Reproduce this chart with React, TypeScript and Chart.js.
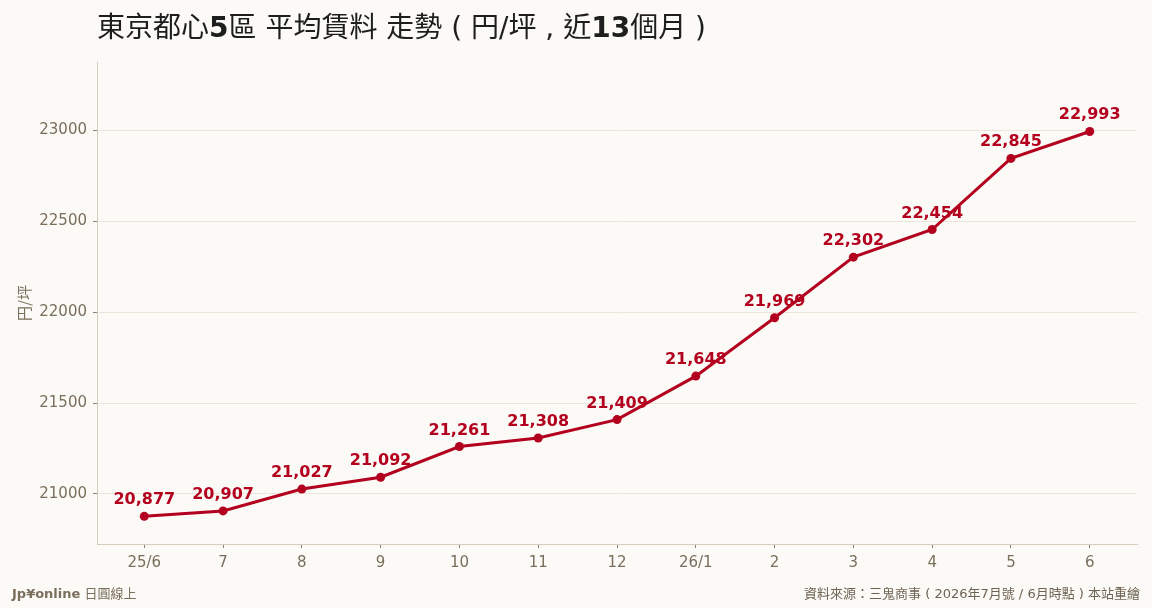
import { useEffect, useRef } from 'react';
import { Chart, registerables } from 'chart.js';

Chart.register(...registerables);

// 月次ラベル（25/6 〜 26/6）
const monthLabels = ['25/6', '7', '8', '9', '10', '11', '12', '26/1', '2', '3', '4', '5', '6'];
// 平均賃料（円/坪）
const rentValues = [20877, 20907, 21027, 21092, 21261, 21308, 21409, 21648, 21969, 22302, 22454, 22845, 22993];
// y軸の目盛り
const yTickValues = [21000, 21500, 22000, 22500, 23000];

const LINE_RED = '#b3001e';
const TICK_TEXT = '#7a6e5c';
const GRID = '#ebe5da';
const BORDER = '#d6cdbf';

const valueLabels = {
  id: 'valueLabels',
  afterDatasetsDraw(chart: any) {
    const ctx = chart.ctx;
    const meta = chart.getDatasetMeta(0);
    ctx.save();
    ctx.font = 'bold 16px "DejaVu Sans", sans-serif';
    ctx.fillStyle = LINE_RED;
    ctx.textAlign = 'center';
    ctx.textBaseline = 'alphabetic';
    meta.data.forEach((pt: any, i: number) => {
      ctx.fillText(rentValues[i].toLocaleString('en-US'), pt.x, pt.y - 12);
    });
    ctx.restore();
  },
};

export default function App() {
  const canvasRef = useRef<HTMLCanvasElement>(null);
  const chartRef = useRef<any>(null);

  useEffect(() => {
    document.body.style.margin = '0';
    if (!canvasRef.current) return;
    if (chartRef.current) chartRef.current.destroy();

    chartRef.current = new Chart(canvasRef.current, {
      type: 'line',
      data: {
        datasets: [
          {
            label: '平均賃料',
            data: rentValues.map((v, i) => ({ x: i, y: v })),
            borderColor: LINE_RED,
            backgroundColor: LINE_RED,
            borderWidth: 3,
            pointRadius: 4.5,
            pointBackgroundColor: LINE_RED,
            pointBorderWidth: 0,
            tension: 0,
          },
        ],
      },
      options: {
        responsive: false,
        animation: false,
        layout: { padding: { left: 0, top: 62, right: 15, bottom: 0 } },
        plugins: {
          legend: { display: false },
          tooltip: { enabled: false },
        },
        scales: {
          x: {
            type: 'linear',
            min: -0.6,
            max: 12.6,
            afterFit: (scale: any) => { scale.height = 64; },
            afterBuildTicks: (scale: any) => {
              scale.ticks = monthLabels.map((_, i) => ({ value: i }));
            },
            border: { color: BORDER },
            grid: { drawOnChartArea: false, drawTicks: true, tickLength: 4, tickColor: '#8a7f70' },
            ticks: {
              autoSkip: false,
              maxRotation: 0,
              padding: 6,
              color: TICK_TEXT,
              font: { family: '"DejaVu Sans", sans-serif', size: 15 },
              callback: (v: any) => monthLabels[v] ?? '',
            },
          },
          y: {
            min: 20725,
            max: 23375,
            afterFit: (scale: any) => { scale.width = 97; },
            afterBuildTicks: (scale: any) => {
              scale.ticks = yTickValues.map((v) => ({ value: v }));
            },
            border: { color: BORDER },
            grid: { color: GRID, tickLength: 4, tickColor: '#8a7f70' },
            ticks: {
              padding: 6,
              color: TICK_TEXT,
              font: { family: '"DejaVu Sans", sans-serif', size: 15 },
              callback: (v: any) => String(v),
            },
            title: {
              display: true,
              text: '円/坪',
              color: TICK_TEXT,
              padding: { top: 15, bottom: 0 },
              font: { family: '"Noto Sans CJK TC", "DejaVu Sans", sans-serif', size: 15 },
            },
          },
        },
      },
      plugins: [valueLabels],
    });

    return () => {
      if (chartRef.current) {
        chartRef.current.destroy();
        chartRef.current = null;
      }
    };
  }, []);

  return (
    <div style={{ position: 'relative', width: 1152, height: 608, background: '#fbfaf6', overflow: 'hidden' }}>
      <canvas ref={canvasRef} width={1152} height={608} style={{ position: 'absolute', left: 0, top: 0 }} />
      <div
        style={{
          position: 'absolute',
          left: 97,
          top: 8,
          fontFamily: '"DejaVu Sans", "Noto Sans CJK TC", sans-serif',
          fontSize: 28,
          color: '#1e1e1e',
          whiteSpace: 'nowrap',
          lineHeight: '40px',
        }}
      >
        東京都心<b>5</b>區 平均賃料 走勢 ( 円/坪 , 近<b>13</b>個月 )
      </div>
      <div
        style={{
          position: 'absolute',
          left: 12,
          top: 583,
          fontFamily: '"DejaVu Sans", "Noto Sans CJK TC", sans-serif',
          fontSize: 13,
          color: '#7a6e5c',
          whiteSpace: 'nowrap',
        }}
      >
        <b>Jp¥online</b> 日圓線上
      </div>
      <div
        style={{
          position: 'absolute',
          right: 12,
          top: 583,
          fontFamily: '"DejaVu Sans", "Noto Sans CJK TC", sans-serif',
          fontSize: 13,
          color: '#6e6353',
          whiteSpace: 'nowrap',
        }}
      >
        資料來源：三鬼商事 ( 2026年7月號 / 6月時點 ) 本站重繪
      </div>
    </div>
  );
}
